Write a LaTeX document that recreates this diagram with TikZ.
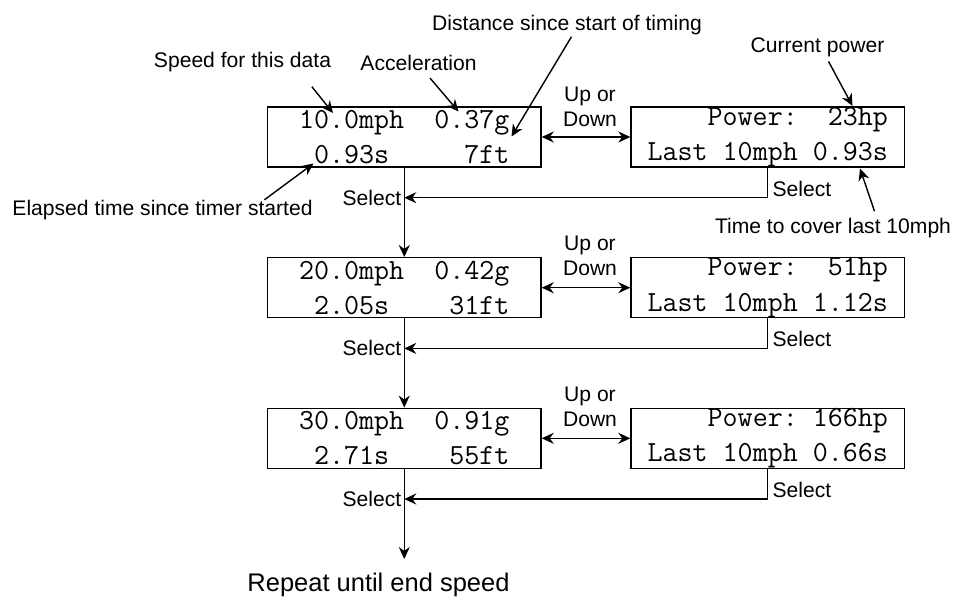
\documentclass[tikz,border=0pt]{standalone}
\usepackage{fontspec}
\setmainfont{Liberation Sans}
\usetikzlibrary{arrows.meta, positioning}
\newcommand{\lcdsp}{\hphantom{0}}

\begin{document}
\begin{tikzpicture}[
  every node/.style={font=\fontsize{12}{14.4}\selectfont},
  lcd/.style={draw, thick, minimum width=5.47cm, minimum height=1.2cm, inner sep=0pt,
              align=center, font=\fontsize{16.6}{20}\selectfont\ttfamily},
  note/.style={inner sep=0pt},
  flow/.style={-{Stealth[length=0.24cm, width=0.22cm]}, thick},
  both/.style={{Stealth[length=0.24cm, width=0.22cm]}-{Stealth[length=0.24cm, width=0.22cm]}, thick},
]
  \useasboundingbox (0,0) rectangle (19.12,-11.98);

  % Row 1
  \node[lcd] (l1) at (8.085,-2.74) {\lcdsp10.0mph\lcdsp\lcdsp0.37g\lcdsp\\\lcdsp\lcdsp0.93s\lcdsp\lcdsp\lcdsp\lcdsp\lcdsp7ft\lcdsp};
  \node[lcd] (r1) at (15.355,-2.74) {\lcdsp\lcdsp\lcdsp\lcdsp Power:\lcdsp\lcdsp23hp\\Last\lcdsp10mph\lcdsp0.93s};

  % Row 2
  \node[lcd] (l2) at (8.085,-5.754) {\lcdsp20.0mph\lcdsp\lcdsp0.42g\lcdsp\\\lcdsp\lcdsp2.05s\lcdsp\lcdsp\lcdsp\lcdsp31ft\lcdsp};
  \node[lcd] (r2) at (15.355,-5.754) {\lcdsp\lcdsp\lcdsp\lcdsp Power:\lcdsp\lcdsp51hp\\Last\lcdsp10mph\lcdsp1.12s};

  % Row 3
  \node[lcd] (l3) at (8.085,-8.766) {\lcdsp30.0mph\lcdsp\lcdsp0.91g\lcdsp\\\lcdsp\lcdsp2.71s\lcdsp\lcdsp\lcdsp\lcdsp55ft\lcdsp};
  \node[lcd] (r3) at (15.355,-8.766) {\lcdsp\lcdsp\lcdsp\lcdsp Power:\lcdsp166hp\\Last\lcdsp10mph\lcdsp0.66s};

  % Up or Down
  \node[note, align=center] (ud1) at (11.8,-2.14) {Up or\\Down};
  \node[note, align=center] (ud2) at (11.8,-5.11) {Up or\\Down};
  \node[note, align=center] (ud3) at (11.8,-8.14) {Up or\\Down};
  \draw[both] (l1) -- (r1);
  \draw[both] (l2) -- (r2);
  \draw[both] (l3) -- (r3);

  % Select
  \coordinate[below=0.6cm of l1] (s1);
  \coordinate[below=0.6cm of l2] (s2);
  \coordinate[below=0.6cm of l3] (s3);
  \coordinate[below=1.8cm of l3] (fin);
  \draw[flow] (r1.south) |- (s1);
  \draw[flow] (r2.south) |- (s2);
  \draw[flow] (r3.south) |- (s3);
  \draw[flow] (l1) -- (l2);
  \draw[flow] (l2) -- (l3);
  \draw[flow] (l3) -- (fin);
  \node[note, anchor=east, xshift=-1.5pt] (sl1) at (s1) {Select};
  \node[note, anchor=east, xshift=-1.5pt] (sl2) at (s2) {Select};
  \node[note, anchor=east, xshift=-1.5pt] (sl3) at (s3) {Select};
  \node[note, anchor=west] (sr1) at ([xshift=0.09cm, yshift=-0.42cm]r1.south) {Select};
  \node[note, anchor=west] (sr2) at ([xshift=0.09cm, yshift=-0.42cm]r2.south) {Select};
  \node[note, anchor=west] (sr3) at ([xshift=0.09cm, yshift=-0.42cm]r3.south) {Select};
  \node[note, anchor=base, font=\fontsize{14.5}{17}\selectfont] (rep) at (7.57,-11.82) {Repeat until end speed};

  % Notes
  \node[note] (spd) at (4.85,-1.25) {Speed for this data};
  \node[note] (acc) at (8.37,-1.25) {Acceleration};
  \node[note] (dst) at (11.34,-0.5) {Distance since start of timing};
  \node[note] (pwr) at (16.35,-0.94) {Current power};
  \node[note] (tcl) at (16.66,-4.56) {Time to cover last 10mph};
  \node[note] (ela) at (3.25,-4.2) {Elapsed time since timer started};
  \coordinate (spdtip) at (6.66,-2.26);
  \coordinate (acctip) at (9.17,-2.23);
  \coordinate (dsttip) at (10.23,-2.73);
  \coordinate (pwrtip) at (17.05,-2.12);
  \coordinate (tcltip) at (17.2,-3.37);
  \coordinate (elatip) at (6.27,-3.27);
  \draw[flow] ([xshift=-0.39cm, yshift=-0.28cm]spd.south east) -- (spdtip);
  \draw[flow] ([xshift=0.23cm, yshift=-0.15cm]acc.south) -- (acctip);
  \draw[flow] ([xshift=0.09cm, yshift=-0.03cm]dst.south) -- (dsttip);
  \draw[flow] ([xshift=0.22cm, yshift=-0.09cm]pwr.south) -- (pwrtip);
  \draw[flow] ([xshift=0.83cm, yshift=0.13cm]tcl.north) -- (tcltip);
  \draw[flow] ([xshift=-0.97cm]ela.north east) -- (elatip);
\end{tikzpicture}
\end{document}
